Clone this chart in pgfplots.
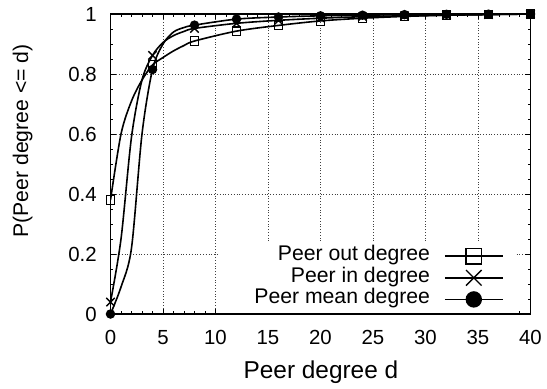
\documentclass[border=0pt]{standalone}
\usepackage{pgfplots}
\pgfplotsset{compat=1.18}
\usepackage{fontspec}
\setmainfont{Liberation Sans}

\pgfplotstableread{
x y
0 0.38
1 0.60
2 0.71
3 0.78
4 0.83
5 0.855
6 0.877
7 0.895
8 0.91
12 0.943
16 0.962
20 0.977
24 0.986
28 0.992
32 0.996
36 0.998
40 1.0
}\outdeg
\pgfplotstableread{
x y
0 0.04
1 0.25
2 0.59
3 0.78
4 0.862
5 0.905
6 0.928
7 0.942
8 0.952
12 0.969
16 0.979
20 0.986
24 0.991
28 0.994
32 0.996
36 0.998
40 1.0
}\indeg
\pgfplotstableread{
x y
0 0.0
1 0.09
2 0.22
3 0.60
4 0.815
5 0.90
6 0.94
7 0.955
8 0.963
12 0.983
16 0.990
20 0.994
24 0.996
28 0.998
32 0.999
36 0.9995
40 1.0
}\meandeg

\begin{document}
\begin{tikzpicture}
\begin{axis}[
  scale only axis,
  width=210pt, height=150pt,
  xmin=0, xmax=40, ymin=0, ymax=1,
  xtick={0,5,...,40},
  ytick={0,0.2,0.4,0.6,0.8,1},
  minor x tick num=4, minor y tick num=3,
  tick align=inside, xtick pos=both, ytick pos=both,
  major tick length=2.5pt, minor tick length=1.35pt,
  grid=major,
  major grid style={densely dotted, black!75, line width=0.4pt},
  axis line style={line width=0.7pt},
  every tick/.style={black, line width=0.5pt},
  tick label style={font=\fontsize{10.2}{12}\selectfont},
  /pgf/number format/assume math mode=true,
  xticklabel style={yshift=-4.7pt},
  yticklabel style={xshift=-3.4pt},
  xlabel={Peer degree d},
  ylabel={P(Peer degree <= d)},
  xlabel style={at={(axis description cs:0.501,-0.2133)}, anchor=base, font=\fontsize{12.2}{14}\selectfont},
  ylabel style={at={(axis description cs:-0.1964,0.577)}, anchor=base, rotate=0, font=\fontsize{10.6}{13}\selectfont},
  legend plot pos=right,
  legend cell align=right,
  legend style={
    at={(rel axis cs:0.9655,0.24)}, anchor=north east,
    fill=white, draw=none,
    inner xsep=6pt, inner ysep=1.5pt,
    font=\fontsize{10.6}{12}\selectfont,
    row sep=0pt,
    nodes={inner sep=0pt, text height=7.6pt, text depth=3.2pt},
    /tikz/every odd column/.append style={column sep=7pt},
  },
  legend image code/.code={\draw[#1, mark indices={2}] plot coordinates {(0pt,0pt) (14.5pt,0pt) (29pt,0pt)};},
]
\addplot[black, line width=0.8pt, smooth, mark=square, mark size=2.1pt,
  mark options={fill=white, solid, line width=0.6pt},
  mark indices={1,5,9,10,11,12,13,14,15,16,17},
  legend image post style={mark size=3.9pt}] table[x=x,y=y] {\outdeg};
\addlegendentry{Peer out degree}
\addplot[black, line width=0.8pt, smooth, mark=x, mark size=2.95pt,
  mark options={solid, line width=0.7pt},
  mark indices={1,5,9,10,11,12,13,14,15,16,17},
  legend image post style={mark size=5.5pt}] table[x=x,y=y] {\indeg};
\addlegendentry{Peer in degree}
\addplot[black, line width=0.8pt, smooth, mark=*, mark size=1.95pt,
  mark options={fill=black, solid},
  mark indices={1,5,9,10,11,12,13,14,15,16,17},
  legend image post style={mark size=3.7pt}] table[x=x,y=y] {\meandeg};
\addlegendentry{\hspace*{12pt}Peer mean degree}
\coordinate (bbsw) at (axis description cs:-0.2631,-0.2467);
\coordinate (bbne) at (axis description cs:1.0393,1.0467);
\end{axis}
\pgfresetboundingbox
\useasboundingbox (bbsw) rectangle (bbne);
\end{tikzpicture}
\end{document}
